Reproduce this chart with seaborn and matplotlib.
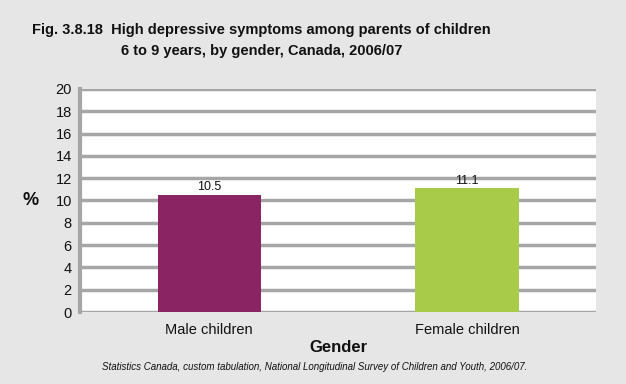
import matplotlib
matplotlib.use('Agg')
import matplotlib.pyplot as plt
import seaborn as sns
import pandas as pd

# data
categories = ['Male children', 'Female children']
values = [10.5, 11.1]
bar_colors = ['#8b2463', '#a8cc4a']

df = pd.DataFrame({'Gender': categories, 'pct': values})

sns.set_style('white')
plt.rcParams['font.family'] = ['Liberation Sans', 'DejaVu Sans']
plt.rcParams['text.color'] = '#111111'
plt.rcParams['axes.labelcolor'] = '#111111'
plt.rcParams['xtick.color'] = '#111111'
plt.rcParams['ytick.color'] = '#111111'

fig = plt.figure(figsize=(6.26, 3.84), dpi=100, facecolor='#e6e6e6')
ax = fig.add_axes([0.128, 0.1875, 0.824, 0.581])
ax.set_facecolor('white')

sns.barplot(data=df, x='Gender', y='pct', hue='Gender', palette=bar_colors,
            width=0.4, legend=False, ax=ax, zorder=3, saturation=1, linewidth=0)

ax.set_ylim(0, 20)
ax.set_yticks(range(0, 21, 2))
ax.yaxis.grid(True, color='#a6a6a6', linewidth=2.5, zorder=0)
ax.set_axisbelow(True)
for s in ['top', 'right', 'bottom']:
    ax.spines[s].set_visible(False)
ax.spines['left'].set_color('#a6a6a6')
ax.spines['left'].set_linewidth(3)
ax.tick_params(axis='both', length=0, labelsize=10.5, pad=6)
ax.tick_params(axis='x', pad=8)

for i, v in enumerate(values):
    ax.text(i, v + 0.15, f'{v}', ha='center', va='bottom', fontsize=9)

ax.set_ylabel('%', rotation=0, fontsize=13, fontweight='bold', labelpad=18, va='center')
ax.set_xlabel('Gender', fontsize=12, fontweight='bold', labelpad=2)

fig.text(0.418, 0.921, 'Fig. 3.8.18  High depressive symptoms among parents of children',
         ha='center', va='center', fontsize=10.5, fontweight='bold')
fig.text(0.418, 0.868, '6 to 9 years, by gender, Canada, 2006/07',
         ha='center', va='center', fontsize=10.5, fontweight='bold')
fig.text(0.502, 0.044, 'Statistics Canada, custom tabulation, National Longitudinal Survey of Children and Youth, 2006/07.',
         ha='center', va='center', fontsize=7, style='italic')

fig.savefig('out.png', dpi=100, facecolor=fig.get_facecolor())
